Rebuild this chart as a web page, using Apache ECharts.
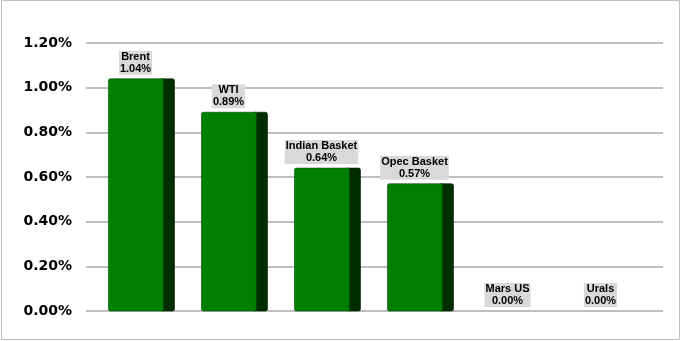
<!DOCTYPE html>
<html><head><meta charset="utf-8">
<script src="https://cdn.jsdelivr.net/npm/echarts@6/dist/echarts.min.js"></script>
<style>html,body{margin:0;padding:0;background:#fff}#c{width:681px;height:341px}</style>
</head><body><div id="c"></div>
<script>
const categories = ['Brent', 'WTI', 'Indian Basket', 'Opec Basket', 'Mars US', 'Urals'];
const values = [1.04, 0.89, 0.64, 0.57, 0.00, 0.00];
const yTicks = [0, 0.2, 0.4, 0.6, 0.8, 1.0, 1.2];

const chart = echarts.init(document.getElementById('c'), null, {renderer: 'canvas'});
const fmt = v => v.toFixed(2) + '%';

chart.setOption({
  animation: false,
  backgroundColor: '#ffffff',
  graphic: [{
    type: 'rect', shape: {x: 1.5, y: 0.5, width: 678, height: 339},
    style: {fill: 'none', stroke: '#bfbfbf', lineWidth: 1}, silent: true, z: 0
  }],
  grid: [
    {left: 86, right: 18, top: 43, bottom: 30},
    {left: 88, width: 558, top: 43, bottom: 30}
  ],
  xAxis: [
    {gridIndex: 0, type: 'value', min: 0, max: 1, show: false},
    {gridIndex: 1, type: 'category', data: categories, show: false}
  ],
  yAxis: [
    {gridIndex: 0, type: 'value', min: yTicks[0], max: yTicks[yTicks.length - 1], interval: 0.2,
     axisLine: {show: false}, axisTick: {show: false},
     axisLabel: {formatter: fmt, margin: 14, color: '#000', fontFamily: 'DejaVu Sans', fontWeight: 'bold', fontSize: 14},
     splitLine: {lineStyle: {color: '#a8a8a8', width: 1.6}}},
    {gridIndex: 1, type: 'value', min: yTicks[0], max: yTicks[yTicks.length - 1], show: false}
  ],
  series: [{
    type: 'custom',
    xAxisIndex: 1, yAxisIndex: 1,
    data: values.map((v, i) => [i, v]),
    renderItem: function (params, api) {
      const i = api.value(0), v = api.value(1);
      const top = api.coord([i, v]);
      const base = api.coord([i, 0]);
      const bw = api.size([1, 0])[0];
      const cx = top[0];
      const fl = cx - bw * 0.28, fw = bw * 0.59, sw = bw * 0.12;
      const h = base[1] - top[1];
      const children = [];
      if (h > 0.5) {
        children.push({
          type: 'rect', shape: {x: fl + fw - 2, y: top[1], width: sw + 2, height: h, r: [0, 2, 2, 0]},
          style: {fill: '#002e00', stroke: '#001f00', lineWidth: 0.6}
        });
        children.push({
          type: 'rect', shape: {x: fl, y: top[1], width: fw, height: h, r: [2, 0, 0, 2]},
          style: {fill: '#007f00', stroke: '#0a4a0a', lineWidth: 0.6}
        });
      }
      children.push({
        type: 'text',
        style: {
          x: cx + 1, y: top[1] - 4,
          text: categories[i] + '\n' + fmt(v),
          fill: '#000', font: 'bold 11px "Liberation Sans", Arial, sans-serif',
          align: 'center', verticalAlign: 'bottom', lineHeight: 12,
          backgroundColor: '#d9d9d9', padding: [0, 1, 0, 1]
        }
      });
      return {type: 'group', children: children};
    }
  }]
});
</script></body></html>
